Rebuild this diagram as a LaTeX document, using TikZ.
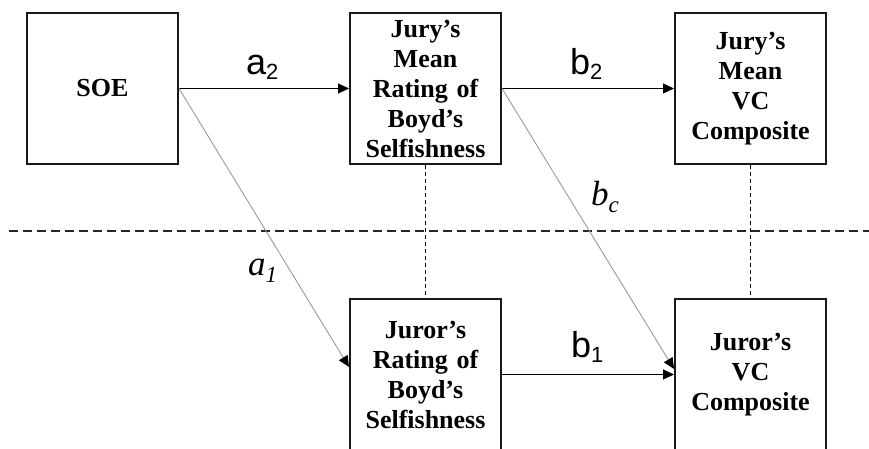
\documentclass[tikz,border=0pt]{standalone}
\usepackage{fontspec}
\setmainfont{Liberation Serif}
\newfontfamily\labsans{Liberation Sans}
\usetikzlibrary{arrows.meta}
\newcommand{\lsub}[1]{\raisebox{-5pt}{\fontsize{22}{22}\selectfont #1}}
\newcommand{\lisub}[1]{\raisebox{-7pt}{\fontsize{23}{23}\selectfont #1}}
\tikzset{
  box/.style={draw=black!90, line width=2pt, minimum width=151pt, minimum height=151pt,
    inner sep=0pt, text width=151pt, align=center,
    font=\bfseries\fontsize{26}{30}\selectfont},
  arr/.style={line width=1.1pt, -{Triangle[length=11pt,width=10pt]}},
  grayarr/.style={draw=black!40, line width=0.9pt, -{Triangle[length=11pt,width=10pt,fill=black,color=black]}},
  vdot/.style={line width=0.8pt, dash pattern=on 4pt off 3pt},
  hdash/.style={line width=2pt, black!85, dash pattern=on 9pt off 5pt},
  labu/.style={anchor=base west, inner sep=0pt, font=\labsans\fontsize{36}{36}\selectfont},
  labi/.style={anchor=base west, inner sep=0pt, font=\itshape\fontsize{35}{35}\selectfont}
}
\begin{document}
\begin{tikzpicture}[x=1pt,y=-1pt]
\clip (0,0) rectangle (869,449);
\fill[white] (0,0) rectangle (869,449);
% boxes
\node[box] (soe) at (102.5,88.5) {SOE};
\node[box] (jmr) at (425.5,88.5) {Jury’s\\Mean\\Rating of\\Boyd’s\\Selfishness};
\node[box] (jvc) at (750.5,88.5) {Jury’s\\Mean\\VC\\Composite};
\node[box] (jr) at (425.5,374.5) {Juror’s\\Rating of\\Boyd’s\\Selfishness};
\node[box] (rvc) at (750.5,374.5) {Juror’s\\VC\\Composite};
% dashed separator
\coordinate (dl) at (9,231);
\coordinate (dr) at (869,231);
\draw[hdash] (dl) -- (dr);
% vertical dotted links
\draw[vdot] (jmr.south) -- (jr.north);
\draw[vdot] (jvc.south) -- (rvc.north);
% arrows
\draw[arr] (soe.east) -- (jmr.west);
\draw[arr] (jmr.east) -- (jvc.west);
\draw[arr] (jr.east) -- (rvc.west);
\draw[grayarr] (soe.east) -- ([yshift=7.5pt]jr.west);
\draw[grayarr] (jmr.east) -- ([yshift=5.5pt]rvc.west);
% labels
\node[labu] (la2) at (246,75) {a\lsub{2}};
\node[labu] (lb2) at (570,75) {b\lsub{2}};
\node[labu] (lb1) at (571,357) {b\lsub{1}};
\node[labi] (la1) at (248,275) {a\lisub{1}};
\node[labi] (lbc) at (591,205) {b\lisub{c}};
\end{tikzpicture}
\end{document}
